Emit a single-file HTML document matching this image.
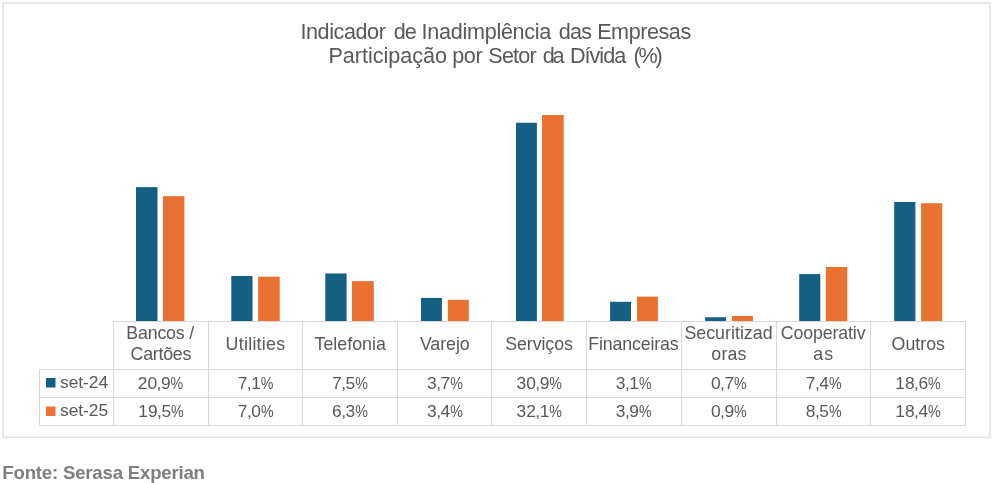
<!DOCTYPE html>
<html><head><meta charset="utf-8"><style>
html,body{margin:0;padding:0;background:#fff;width:993px;height:483px;overflow:hidden}
svg{position:absolute;left:0;top:0;display:block;will-change:transform}
text{font-family:"Liberation Sans",sans-serif}
</style></head><body>
<svg width="993" height="483" viewBox="0 0 993 483">
<rect x="3" y="3" width="987" height="434.4" fill="none" stroke="#E3E3E3" stroke-width="1.6"/>
<rect x="136.00" y="187.15" width="21.50" height="133.85" fill="#156082"/>
<rect x="162.90" y="196.17" width="21.50" height="124.83" fill="#E97132"/>
<rect x="231.30" y="276.03" width="21.20" height="44.97" fill="#156082"/>
<rect x="258.10" y="276.67" width="21.60" height="44.33" fill="#E97132"/>
<rect x="325.30" y="273.45" width="21.30" height="47.55" fill="#156082"/>
<rect x="352.00" y="281.18" width="21.80" height="39.82" fill="#E97132"/>
<rect x="421.00" y="297.92" width="20.90" height="23.08" fill="#156082"/>
<rect x="447.90" y="299.85" width="20.90" height="21.15" fill="#E97132"/>
<rect x="516.00" y="122.75" width="20.90" height="198.25" fill="#156082"/>
<rect x="542.00" y="115.03" width="21.70" height="205.97" fill="#E97132"/>
<rect x="610.10" y="301.79" width="20.90" height="19.21" fill="#156082"/>
<rect x="637.00" y="296.63" width="20.90" height="24.37" fill="#E97132"/>
<rect x="705.10" y="317.24" width="20.90" height="3.76" fill="#156082"/>
<rect x="732.10" y="315.95" width="20.90" height="5.05" fill="#E97132"/>
<rect x="799.20" y="274.09" width="21.10" height="46.91" fill="#156082"/>
<rect x="825.90" y="267.01" width="21.40" height="53.99" fill="#E97132"/>
<rect x="894.20" y="201.97" width="21.20" height="119.03" fill="#156082"/>
<rect x="921.10" y="203.25" width="21.20" height="117.75" fill="#E97132"/>
<line x1="113.00" y1="321.50" x2="966.00" y2="321.50" stroke="#D9D9D9" stroke-width="1"/>
<line x1="39.00" y1="369.50" x2="966.00" y2="369.50" stroke="#D9D9D9" stroke-width="1"/>
<line x1="39.00" y1="397.50" x2="966.00" y2="397.50" stroke="#D9D9D9" stroke-width="1"/>
<line x1="39.00" y1="425.50" x2="966.00" y2="425.50" stroke="#D9D9D9" stroke-width="1"/>
<line x1="113.50" y1="321.50" x2="113.50" y2="425.50" stroke="#D9D9D9" stroke-width="1"/>
<line x1="208.50" y1="321.50" x2="208.50" y2="425.50" stroke="#D9D9D9" stroke-width="1"/>
<line x1="302.50" y1="321.50" x2="302.50" y2="425.50" stroke="#D9D9D9" stroke-width="1"/>
<line x1="397.50" y1="321.50" x2="397.50" y2="425.50" stroke="#D9D9D9" stroke-width="1"/>
<line x1="491.50" y1="321.50" x2="491.50" y2="425.50" stroke="#D9D9D9" stroke-width="1"/>
<line x1="586.50" y1="321.50" x2="586.50" y2="425.50" stroke="#D9D9D9" stroke-width="1"/>
<line x1="681.50" y1="321.50" x2="681.50" y2="425.50" stroke="#D9D9D9" stroke-width="1"/>
<line x1="776.50" y1="321.50" x2="776.50" y2="425.50" stroke="#D9D9D9" stroke-width="1"/>
<line x1="870.50" y1="321.50" x2="870.50" y2="425.50" stroke="#D9D9D9" stroke-width="1"/>
<line x1="965.50" y1="321.50" x2="965.50" y2="425.50" stroke="#D9D9D9" stroke-width="1"/>
<line x1="39.50" y1="369.50" x2="39.50" y2="425.50" stroke="#D9D9D9" stroke-width="1"/>
<rect x="46" y="378" width="9.5" height="9.5" fill="#156082"/>
<rect x="46" y="406.5" width="9.5" height="9.5" fill="#E97132"/>
<text x="342.95" y="38.70" font-size="21.60" text-anchor="middle" font-weight="normal" fill="#595959" letter-spacing="-0.437">Indicador</text>
<text x="404.78" y="38.70" font-size="21.60" text-anchor="middle" font-weight="normal" fill="#595959" letter-spacing="-1.050">de</text>
<text x="486.35" y="38.70" font-size="21.60" text-anchor="middle" font-weight="normal" fill="#595959" letter-spacing="-0.292">Inadimplência</text>
<text x="575.00" y="38.70" font-size="21.60" text-anchor="middle" font-weight="normal" fill="#595959" letter-spacing="-0.700">das</text>
<text x="643.98" y="38.70" font-size="21.60" text-anchor="middle" font-weight="normal" fill="#595959" letter-spacing="-0.450">Empresas</text>
<text x="387.73" y="62.60" font-size="21.60" text-anchor="middle" font-weight="normal" fill="#595959" letter-spacing="-0.032">Participação</text>
<text x="467.30" y="62.60" font-size="21.60" text-anchor="middle" font-weight="normal" fill="#595959" letter-spacing="-0.350">por</text>
<text x="512.12" y="62.60" font-size="21.60" text-anchor="middle" font-weight="normal" fill="#595959" letter-spacing="-0.788">Setor</text>
<text x="552.55" y="62.60" font-size="21.60" text-anchor="middle" font-weight="normal" fill="#595959" letter-spacing="-2.100">da</text>
<text x="597.60" y="62.60" font-size="21.60" text-anchor="middle" font-weight="normal" fill="#595959" letter-spacing="-0.980">Dívida</text>
<text x="646.98" y="62.60" font-size="21.60" text-anchor="middle" font-weight="normal" fill="#595959" letter-spacing="-2.275">(%)</text>
<text x="160.16" y="339.00" font-size="17.80" text-anchor="middle" font-weight="normal" fill="#595959" letter-spacing="-0.200">Bancos /</text>
<text x="160.86" y="360.30" font-size="17.80" text-anchor="middle" font-weight="normal" fill="#595959" letter-spacing="-0.233">Cartões</text>
<text x="137.79" y="388.70" font-size="17.40" fill="#595959" dx="0 0 -0.52 -0.52">20,9</text>
<text transform="translate(170.61 388.70) scale(0.820 1)" font-size="17.40" fill="#595959">%</text>
<text x="138.28" y="416.90" font-size="17.40" fill="#595959" dx="0 0 -0.52 -0.52">19,5</text>
<text transform="translate(171.10 416.90) scale(0.820 1)" font-size="17.40" fill="#595959">%</text>
<text x="255.50" y="350.20" font-size="17.80" text-anchor="middle" font-weight="normal" fill="#595959" letter-spacing="0.280">Utilities</text>
<text x="237.72" y="388.70" font-size="17.40" fill="#595959" dx="0 -0.52 -0.52">7,1</text>
<text transform="translate(260.87 388.70) scale(0.820 1)" font-size="17.40" fill="#595959">%</text>
<text x="237.83" y="416.90" font-size="17.40" fill="#595959" dx="0 -0.52 -0.52">7,0</text>
<text transform="translate(260.97 416.90) scale(0.820 1)" font-size="17.40" fill="#595959">%</text>
<text x="350.21" y="350.20" font-size="17.80" text-anchor="middle" font-weight="normal" fill="#595959" letter-spacing="0.018">Telefonia</text>
<text x="332.08" y="388.70" font-size="17.40" fill="#595959" dx="0 -0.52 -0.52">7,5</text>
<text transform="translate(355.23 388.70) scale(0.820 1)" font-size="17.40" fill="#595959">%</text>
<text x="332.01" y="416.90" font-size="17.40" fill="#595959" dx="0 -0.52 -0.52">6,3</text>
<text transform="translate(355.16 416.90) scale(0.820 1)" font-size="17.40" fill="#595959">%</text>
<text x="444.78" y="350.20" font-size="17.80" text-anchor="middle" font-weight="normal" fill="#595959" letter-spacing="-0.056">Varejo</text>
<text x="427.07" y="388.70" font-size="17.40" fill="#595959" dx="0 -0.52 -0.52">3,7</text>
<text transform="translate(450.22 388.70) scale(0.820 1)" font-size="17.40" fill="#595959">%</text>
<text x="427.07" y="416.90" font-size="17.40" fill="#595959" dx="0 -0.52 -0.52">3,4</text>
<text transform="translate(450.22 416.90) scale(0.820 1)" font-size="17.40" fill="#595959">%</text>
<text x="539.00" y="350.20" font-size="17.80" text-anchor="middle" font-weight="normal" fill="#595959" letter-spacing="-0.080">Serviços</text>
<text x="516.53" y="388.70" font-size="17.40" fill="#595959" dx="0 0 -0.52 -0.52">30,9</text>
<text transform="translate(549.35 388.70) scale(0.820 1)" font-size="17.40" fill="#595959">%</text>
<text x="516.53" y="416.90" font-size="17.40" fill="#595959" dx="0 0 -0.52 -0.52">32,1</text>
<text transform="translate(549.35 416.90) scale(0.820 1)" font-size="17.40" fill="#595959">%</text>
<text x="633.37" y="350.20" font-size="17.80" text-anchor="middle" font-weight="normal" fill="#595959" letter-spacing="-0.154">Financeiras</text>
<text x="615.87" y="388.70" font-size="17.40" fill="#595959" dx="0 -0.52 -0.52">3,1</text>
<text transform="translate(639.02 388.70) scale(0.820 1)" font-size="17.40" fill="#595959">%</text>
<text x="615.87" y="416.90" font-size="17.40" fill="#595959" dx="0 -0.52 -0.52">3,9</text>
<text transform="translate(639.02 416.90) scale(0.820 1)" font-size="17.40" fill="#595959">%</text>
<text x="728.51" y="339.00" font-size="17.80" text-anchor="middle" font-weight="normal" fill="#595959" letter-spacing="0.014">Securitizad</text>
<text x="729.00" y="360.30" font-size="17.80" text-anchor="middle" font-weight="normal" fill="#595959" letter-spacing="0.187">oras</text>
<text x="710.91" y="388.70" font-size="17.40" fill="#595959" dx="0 -0.52 -0.52">0,7</text>
<text transform="translate(734.05 388.70) scale(0.820 1)" font-size="17.40" fill="#595959">%</text>
<text x="710.91" y="416.90" font-size="17.40" fill="#595959" dx="0 -0.52 -0.52">0,9</text>
<text transform="translate(734.05 416.90) scale(0.820 1)" font-size="17.40" fill="#595959">%</text>
<text x="823.15" y="339.00" font-size="17.80" text-anchor="middle" font-weight="normal" fill="#595959" letter-spacing="-0.140">Cooperativ</text>
<text x="823.85" y="360.30" font-size="17.80" text-anchor="middle" font-weight="normal" fill="#595959" letter-spacing="1.260">as</text>
<text x="805.83" y="388.70" font-size="17.40" fill="#595959" dx="0 -0.52 -0.52">7,4</text>
<text transform="translate(828.97 388.70) scale(0.820 1)" font-size="17.40" fill="#595959">%</text>
<text x="805.83" y="416.90" font-size="17.40" fill="#595959" dx="0 -0.52 -0.52">8,5</text>
<text transform="translate(828.97 416.90) scale(0.820 1)" font-size="17.40" fill="#595959">%</text>
<text x="918.28" y="350.20" font-size="17.80" text-anchor="middle" font-weight="normal" fill="#595959" letter-spacing="0.000">Outros</text>
<text x="895.28" y="388.70" font-size="17.40" fill="#595959" dx="0 0 -0.52 -0.52">18,6</text>
<text transform="translate(928.10 388.70) scale(0.820 1)" font-size="17.40" fill="#595959">%</text>
<text x="895.28" y="416.90" font-size="17.40" fill="#595959" dx="0 0 -0.52 -0.52">18,4</text>
<text transform="translate(928.10 416.90) scale(0.820 1)" font-size="17.40" fill="#595959">%</text>
<text x="60.00" y="387.80" font-size="17.40" text-anchor="start" font-weight="normal" fill="#595959" letter-spacing="-0.056">set-24</text>
<text x="60.00" y="416.40" font-size="17.40" text-anchor="start" font-weight="normal" fill="#595959" letter-spacing="-0.056">set-25</text>
<text x="2.37" y="479.30" font-size="18.60" text-anchor="start" font-weight="bold" fill="#7F7F7F" letter-spacing="-0.193">Fonte: Serasa Experian</text>
</svg>
</body></html>
